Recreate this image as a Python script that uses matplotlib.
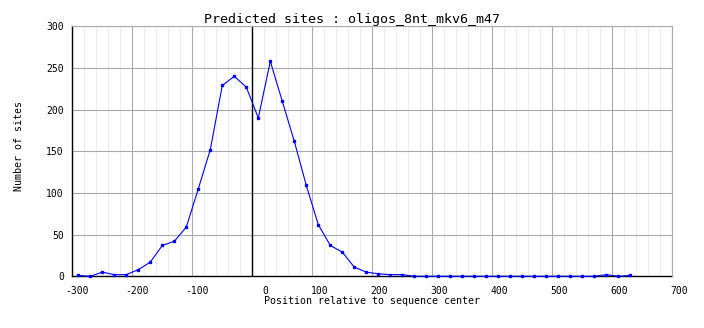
import matplotlib
matplotlib.use('Agg')
from matplotlib import pyplot
from matplotlib.transforms import ScaledTranslation

matplotlib.rcParams['font.family'] = 'DejaVu Sans Mono'

title = 'Predicted sites : oligos_8nt_mkv6_m47'
xlabel = 'Position relative to sequence center'
ylabel = 'Number of sites'

positions = list(range(-290, 631, 20))
sites = [1, 0, 5, 2, 2, 8, 17, 37, 42, 59,
         105, 152, 229, 240, 227, 190, 258, 210, 162, 109,
         62, 37, 29, 11, 5, 3, 2, 2, 0,
         0, 0, 0, 0, 0, 0, 0, 0, 0, 0, 0, 0, 0, 0, 0,
         2, 0, 1]

xticks = list(range(-300, 701, 100))
yticks = list(range(0, 301, 50))

fig = pyplot.figure(figsize=[7.04, 3.28], dpi=100)
ax = fig.add_axes([72.3/704, 1 - 276.3/328, 600/704, 250/328])

ax.set(xlim=[-300, 700], ylim=[0, 300])
ax.set_xticks(xticks)
ax.set_yticks(yticks)
ax.set_xticks(range(-300, 701, 20), minor=True)
ax.grid(which='minor', axis='x', color='#eeeeee', linewidth=0.8)
ax.grid(which='major', color='#aaaaaa', linewidth=0.8)
ax.set_axisbelow(True)
ax.tick_params(which='both', length=0, labelsize=7)
ax.tick_params(axis='y', pad=6)
ax.tick_params(axis='x', pad=7)

for side in ['top', 'right']:
    ax.spines[side].set_color('#aaaaaa')
    ax.spines[side].set_linewidth(0.8)
for side in ['left', 'bottom']:
    ax.spines[side].set_color('black')
    ax.spines[side].set_linewidth(1)
    ax.spines[side].set_zorder(1.5)

ax.axvline(0, color='black', linewidth=1, zorder=1.5)
ax.plot(positions, sites, color='#0000ff', linewidth=0.8,
        marker='s', markersize=2, zorder=3, clip_on=False)

ax.set_xticklabels([str(t) for t in xticks])
shift = ScaledTranslation(16/100, 0, fig.dpi_scale_trans)
for label in ax.get_xticklabels():
    label.set_horizontalalignment('right')
    label.set_transform(label.get_transform() + shift)

ax.set_xlabel(xlabel, fontsize=7.2)
ax.xaxis.set_label_coords(0.5, -0.08)
ax.set_ylabel(ylabel, fontsize=7.2)
ax.yaxis.set_label_coords(-0.081, 0.52)

fig.text(0.5, 1 - 23.3/328, title, ha='center', va='baseline', fontsize=9.6)

fig.savefig('out.png', dpi=100)
